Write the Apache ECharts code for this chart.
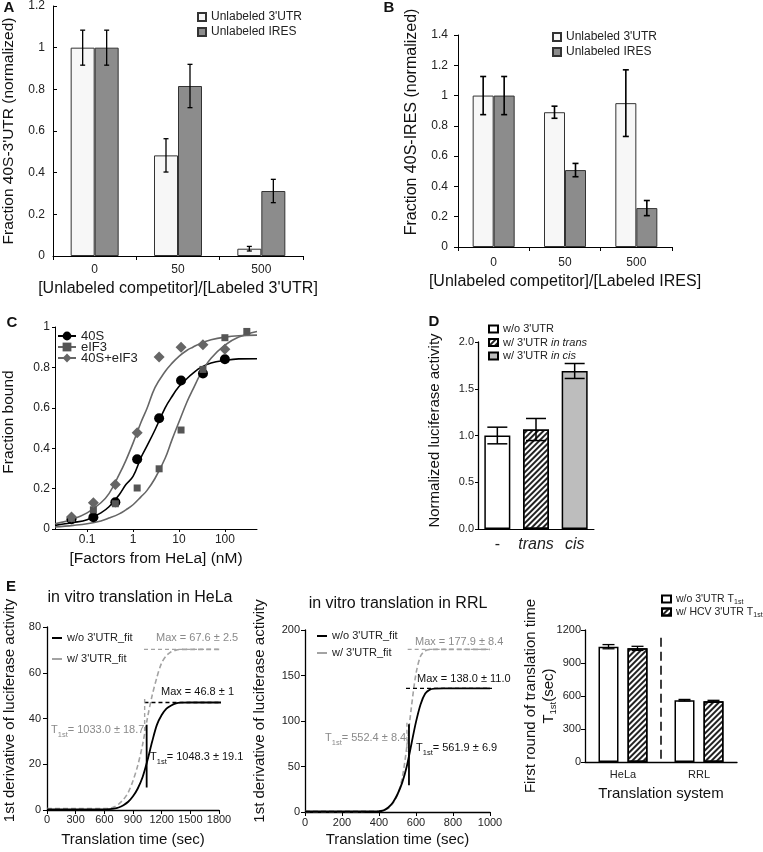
<!DOCTYPE html>
<html><head><meta charset="utf-8">
<script src="https://cdn.jsdelivr.net/npm/echarts@6/dist/echarts.min.js"></script>
<style>html,body{margin:0;padding:0;background:#fff}#c{width:763px;height:852px}</style>
</head><body><div id="c"></div>
<script>
const FONT = '"Liberation Sans", Arial, Helvetica, sans-serif';

// ---------- Panel A ----------
const catsA = ['0', '50', '500'];
const aUtr = [1.0, 0.483, 0.035];
const aUtrErr = [0.084, 0.08, 0.011];
const aIres = [1.0, 0.816, 0.312];
const aIresErr = [0.084, 0.104, 0.056];

// ---------- Panel B ----------
const catsB = ['0', '50', '500'];
const bUtr = [1.0, 0.89, 0.95];
const bUtrErr = [0.126, 0.04, 0.22];
const bIres = [1.0, 0.508, 0.257];
const bIresErr = [0.126, 0.044, 0.05];

// ---------- Panel C ----------
const cConc = [0.0457, 0.137, 0.412, 1.23, 3.70, 11.1, 33.3, 100];
const cConcEif3 = [0.0457, 0.137, 0.412, 1.23, 3.70, 11.1, 33.3, 100, 300];
const c40S = [0.048, 0.058, 0.132, 0.345, 0.548, 0.735, 0.77, 0.84];
const cEif3 = [0.052, 0.095, 0.125, 0.203, 0.298, 0.49, 0.79, 0.947, 0.978];
const cBoth = [0.06, 0.13, 0.22, 0.476, 0.851, 0.9, 0.912, 0.89];
const cFitX = [0.02, 0.05, 0.1, 0.2, 0.3, 0.5, 0.7, 1, 1.5, 2, 3, 5, 7, 10, 15, 20, 30, 50, 100, 200, 500];
const cFit40S = [0.018, 0.032, 0.046, 0.08, 0.11, 0.17, 0.22, 0.26, 0.355, 0.41, 0.49, 0.60, 0.655, 0.705, 0.745, 0.77, 0.80, 0.822, 0.835, 0.842, 0.843];
const cFitEif3 = [0.01, 0.018, 0.026, 0.04, 0.054, 0.075, 0.095, 0.12, 0.16, 0.19, 0.25, 0.35, 0.44, 0.53, 0.63, 0.69, 0.77, 0.845, 0.91, 0.95, 0.978];
const cFitBoth = [0.026, 0.05, 0.08, 0.13, 0.175, 0.27, 0.34, 0.425, 0.53, 0.595, 0.70, 0.78, 0.82, 0.855, 0.885, 0.90, 0.92, 0.937, 0.95, 0.957, 0.96];
const cXTicks = [0.1, 1, 10, 100];

// ---------- Panel D ----------
const catsD = ['-', 'trans', 'cis'];
const dNames = ["w/o 3'UTR", "w/ 3'UTR in trans", "w/ 3'UTR in cis"];
const dVals = [1.0, 1.064, 1.69];
const dErr = [0.089, 0.118, 0.08];

// ---------- Panel E1 (HeLa) ----------
const e1T = [0, 300, 600, 650, 700, 750, 800, 850, 900, 950, 1000, 1050, 1100, 1150, 1200, 1250, 1300, 1350, 1400, 1500, 1850];
const e1Without = [0.3, 0.3, 0.3, 0.4, 0.6, 1.1, 2.1, 3.6, 6.0, 9.4, 14.3, 21.5, 29.8, 37.2, 41.5, 44.3, 45.7, 46.6, 46.9, 47.0, 47.0];
const e1With = [0.6, 0.6, 0.6, 0.7, 1.3, 2.6, 4.6, 7.7, 12.8, 19.5, 28.5, 40.0, 50.0, 58.0, 64.3, 67.5, 69.2, 69.9, 70.2, 70.2, 70.2];
const e1MaxWith = [[1015, 70.2], [1850, 70.2]];
const e1MaxWithout = [[1020, 47.0], [1850, 47.0]];
const e1T1With = [[1022, 48.5], [1022, 34]];
const e1T1Without = [[1043, 37.3], [1043, 9.8]];

// ---------- Panel E2 (RRL) ----------
const e2T = [0, 200, 400, 425, 450, 475, 500, 525, 550, 575, 600, 625, 650, 675, 700, 750, 1000];
const e2Without = [0.7, 0.7, 0.8, 1.8, 5, 10.5, 19.5, 32, 50, 74.5, 99, 118.5, 130.2, 134.5, 135.5, 135.8, 135.8];
const e2With = [0.7, 0.7, 1, 2, 4, 9.5, 19, 37, 71, 115, 152, 171.5, 177, 178.5, 178.7, 178.7, 178.7];
const e2MaxWith = [[555, 178.7], [1018, 178.7]];
const e2MaxWithout = [[546, 135.8], [1021, 135.8]];
const e2T1With = [[551, 98], [551, 66]];
const e2T1Without = [[562, 96.5], [562, 29.3]];

// ---------- Panel E3 ----------
const catsE3 = ['HeLa', 'RRL'];
const e3Without = [1048.3, 561.9];
const e3WithoutErr = [19.1, 6.9];
const e3With = [1033.0, 552.4];
const e3WithErr = [18.7, 8.4];
const e3Divider = [30, 1160];

// ---------- helpers ----------
function merge(a, b) {
  for (const k in b) {
    if (b[k] && typeof b[k] === 'object' && !Array.isArray(b[k]) && a[k] && typeof a[k] === 'object' && !Array.isArray(a[k])) merge(a[k], b[k]);
    else a[k] = b[k];
  }
  return a;
}
const plain = v => String(v);
function axisBase(gi, extra) {
  return merge({
    gridIndex: gi,
    splitLine: { show: false },
    axisLine: { show: true, onZero: false, lineStyle: { color: '#000', width: 1 } },
    axisTick: { show: true, inside: false, length: 4, lineStyle: { color: '#000' } },
    axisLabel: { color: '#222', fontSize: 12, fontFamily: FONT, margin: 8 },
    nameLocation: 'middle',
    nameMoveOverlap: false,
    nameTextStyle: { color: '#111', fontSize: 16, fontFamily: FONT }
  }, extra);
}
function errBars(gi, vals, errs, offsetPx, capW, lw) {
  return {
    type: 'custom', xAxisIndex: gi, yAxisIndex: gi, z: 5, silent: true,
    data: vals.map((v, i) => [i, v - errs[i], v + errs[i]]),
    encode: { x: 0, y: [1, 2] },
    renderItem(params, api) {
      const i = api.value(0);
      const p1 = api.coord([i, api.value(1)]);
      const p2 = api.coord([i, api.value(2)]);
      const x = p1[0] + offsetPx;
      const h = capW / 2;
      const st = { stroke: '#000', lineWidth: lw };
      return { type: 'group', children: [
        { type: 'line', shape: { x1: x, y1: p1[1], x2: x, y2: p2[1] }, style: st },
        { type: 'line', shape: { x1: x - h, y1: p1[1], x2: x + h, y2: p1[1] }, style: st },
        { type: 'line', shape: { x1: x - h, y1: p2[1], x2: x + h, y2: p2[1] }, style: st }
      ] };
    }
  };
}
function refLine(gi, pts, color, type, width) {
  return { type: 'line', xAxisIndex: gi, yAxisIndex: gi, data: pts, symbol: 'none', silent: true, clip: false,
    lineStyle: { color, type, width }, z: 4 };
}
const hatch = { symbol: 'rect', symbolSize: 1, dashArrayX: [1, 0], dashArrayY: [1.2, 2.0], rotation: -Math.PI / 4, color: '#222' };
const subRich = {
  sub: { fontSize: 7.5, fontFamily: FONT, verticalAlign: 'bottom', lineHeight: 17 },
  gsub: { fontSize: 7.5, fontFamily: FONT, verticalAlign: 'bottom', lineHeight: 17, color: '#8a8a8a' }
};

const grids = [
  { left: 53, top: 6, width: 250, height: 250 },
  { left: 458, top: 35, width: 214, height: 212 },
  { left: 55, top: 327, width: 202, height: 202 },
  { left: 478, top: 342, width: 116, height: 187 },
  { left: 47, top: 627, width: 172, height: 183 },
  { left: 305, top: 630, width: 185, height: 182 },
  { left: 585, top: 630, width: 152, height: 132 }
];

const xAxes = [
  axisBase(0, { type: 'category', data: catsA, axisTick: { length: 4 }, axisLabel: { margin: 8 },
    name: "[Unlabeled competitor]/[Labeled 3'UTR]", nameGap: 25 }),
  axisBase(1, { type: 'category', data: catsB, axisLabel: { margin: 10 },
    name: '[Unlabeled competitor]/[Labeled IRES]', nameGap: 27 }),
  axisBase(2, { type: 'log', logBase: 10, min: 0.02, max: 500,
    axisLabel: { margin: 5, customValues: cXTicks }, axisTick: { customValues: cXTicks, length: 3 },
    name: '[Factors from HeLa] (nM)', nameGap: 22, nameTextStyle: { fontSize: 15.5 } }),
  axisBase(3, { type: 'category', data: catsD, axisTick: { show: false },
    axisLabel: { interval: 0, fontSize: 16, margin: 8, formatter: v => v === '-' ? v : '{i|' + v + '}',
      rich: { i: { fontStyle: 'italic', fontSize: 16, fontFamily: FONT, color: '#222' } } } }),
  axisBase(4, { type: 'value', min: 0, max: 1800, interval: 300, axisLabel: { fontSize: 11, margin: 4, formatter: plain },
    axisLine: { lineStyle: { width: 1.3 } },
    name: 'Translation time (sec)', nameGap: 22, nameTextStyle: { fontSize: 15 } }),
  axisBase(5, { type: 'value', min: 0, max: 1000, interval: 200, axisLabel: { fontSize: 11, margin: 5, formatter: plain },
    axisLine: { lineStyle: { width: 1.3 } },
    name: 'Translation time (sec)', nameGap: 20, nameTextStyle: { fontSize: 15 } }),
  axisBase(6, { type: 'category', data: catsE3, axisTick: { show: false }, axisLabel: { interval: 0, fontSize: 11, margin: 7 },
    axisLine: { lineStyle: { width: 1.3 } },
    name: 'Translation system', nameGap: 24, nameTextStyle: { fontSize: 15 } })
];

const yAxes = [
  axisBase(0, { type: 'value', min: 0, max: 1.2, interval: 0.2, axisTick: { inside: true },
    name: "Fraction 40S-3'UTR (normalized)", nameGap: 36, nameTextStyle: { fontSize: 15.5 } }),
  axisBase(1, { type: 'value', min: 0, max: 1.4, interval: 0.2, axisLabel: { margin: 10 },
    name: 'Fraction 40S-IRES (normalized)', nameGap: 38, nameTextStyle: { padding: [0, 0, 0, 38] } }),
  axisBase(2, { type: 'value', min: 0, max: 1, interval: 0.2, axisLabel: { margin: 5 }, axisTick: { length: 3 },
    name: 'Fraction bound', nameGap: 38, nameTextStyle: { fontSize: 15.5, padding: [0, 0, 0, 12] } }),
  axisBase(3, { type: 'value', min: 0, max: 2, interval: 0.5, axisLabel: { fontSize: 11, margin: 4, formatter: v => v.toFixed(1) },
    axisTick: { length: 3 }, axisLine: { lineStyle: { width: 1.3 } },
    name: 'Normalized luciferase activity', nameGap: 36, nameTextStyle: { fontSize: 15, padding: [0, 0, 0, 10] } }),
  axisBase(4, { type: 'value', min: 0, max: 80, interval: 20, axisLabel: { fontSize: 11, margin: 6, formatter: plain },
    axisLine: { lineStyle: { width: 1.3 } },
    name: '1st derivative of luciferase activity', nameGap: 30, nameTextStyle: { fontSize: 15, padding: [0, 0, 0, 16] } }),
  axisBase(5, { type: 'value', min: 0, max: 200, interval: 50, axisLabel: { fontSize: 11, margin: 5, formatter: plain },
    axisLine: { lineStyle: { width: 1.3 } },
    name: '1st derivative of luciferase activity', nameGap: 38, nameTextStyle: { fontSize: 15, padding: [0, 0, 0, 20] } }),
  axisBase(6, { type: 'value', min: 0, max: 1200, interval: 300, axisLabel: { fontSize: 11, margin: 4, formatter: plain },
    axisLine: { lineStyle: { width: 1.3 } },
    name: 'First round of translation time\nT{sub|1st}(sec)', nameGap: 27,
    nameTextStyle: { fontSize: 15, lineHeight: 17, rich: { sub: { fontSize: 9.5, fontFamily: FONT, verticalAlign: 'bottom', lineHeight: 19, color: '#111' } } } })
];

const series = [];
// A
series.push({ type: 'bar', name: "Unlabeled 3'UTR", xAxisIndex: 0, yAxisIndex: 0, data: aUtr, barWidth: 24, barGap: '0%',
  itemStyle: { color: '#f7f7f7', borderColor: '#333', borderWidth: 1 } });
series.push({ type: 'bar', name: 'Unlabeled IRES', xAxisIndex: 0, yAxisIndex: 0, data: aIres, barWidth: 24, barGap: '0%',
  itemStyle: { color: '#8c8c8c', borderColor: '#333', borderWidth: 1 } });
series.push(errBars(0, aUtr, aUtrErr, -12, 5, 1.3));
series.push(errBars(0, aIres, aIresErr, 12, 5, 1.3));
// B
series.push({ type: 'bar', name: "Unlabeled 3'UTR", xAxisIndex: 1, yAxisIndex: 1, data: bUtr, barWidth: 21, barGap: '0%',
  itemStyle: { color: '#f7f7f7', borderColor: '#333', borderWidth: 1 } });
series.push({ type: 'bar', name: 'Unlabeled IRES', xAxisIndex: 1, yAxisIndex: 1, data: bIres, barWidth: 21, barGap: '0%',
  itemStyle: { color: '#8c8c8c', borderColor: '#333', borderWidth: 1 } });
series.push(errBars(1, bUtr, bUtrErr, -10.5, 6, 1.6));
series.push(errBars(1, bIres, bIresErr, 10.5, 6, 1.6));
// C
const cGroups = [
  { name: '40S', fit: cFit40S, xs: cConc, ys: c40S, color: '#000', lineColor: '#000', symbol: 'circle', size: 10 },
  { name: 'eIF3', fit: cFitEif3, xs: cConcEif3, ys: cEif3, color: '#555', lineColor: '#666', symbol: 'rect', size: 7 },
  { name: '40S+eIF3', fit: cFitBoth, xs: cConc, ys: cBoth, color: '#666', lineColor: '#666', symbol: 'diamond', size: 11 }
];
cGroups.forEach(g => {
  series.push({ type: 'line', name: g.name, xAxisIndex: 2, yAxisIndex: 2, smooth: 0.4, showSymbol: false,
    symbol: g.symbol, symbolSize: g.size, data: cFitX.map((x, i) => [x, g.fit[i]]),
    itemStyle: { color: g.color }, lineStyle: { color: g.lineColor, width: 1.6 }, z: 2 });
  series.push({ type: 'scatter', name: g.name, xAxisIndex: 2, yAxisIndex: 2, symbol: g.symbol, symbolSize: g.size,
    data: g.xs.map((x, i) => [x, g.ys[i]]), itemStyle: { color: g.color, opacity: 1 }, z: 3 });
});
// D
const dStyles = [
  { color: '#fff', borderColor: '#000', borderWidth: 1.5 },
  { color: '#fff', borderColor: '#000', borderWidth: 1.5, decal: hatch },
  { color: '#bdbdbd', borderColor: '#000', borderWidth: 1.5 }
];
dNames.forEach((n, k) => {
  series.push({ type: 'bar', name: n, xAxisIndex: 3, yAxisIndex: 3, barWidth: 26, barGap: '-100%',
    data: dVals.map((v, j) => j === k ? v : '-'), itemStyle: dStyles[k] });
});
series.push(errBars(3, dVals, dErr, 0, 20, 1.5));
// E1
series.push({ type: 'line', name: "w/o 3'UTR_fit", xAxisIndex: 4, yAxisIndex: 4, symbol: 'none', smooth: 0.3, clip: false,
  data: e1T.map((t, i) => [t, e1Without[i]]), lineStyle: { color: '#000', width: 1.8 }, itemStyle: { color: '#000' }, z: 3 });
series.push({ type: 'line', name: "w/ 3'UTR_fit", xAxisIndex: 4, yAxisIndex: 4, symbol: 'none', smooth: 0.3, clip: false,
  data: e1T.map((t, i) => [t, e1With[i]]), lineStyle: { color: '#a3a3a3', width: 1.6, type: [5, 3] }, itemStyle: { color: '#a3a3a3' }, z: 2 });
series.push(refLine(4, e1MaxWith, '#a3a3a3', [4, 3], 1.4));
series.push(refLine(4, e1MaxWithout, '#000', [4, 3], 1.4));
series.push(refLine(4, e1T1With, '#a3a3a3', [4, 3], 1.4));
series.push(refLine(4, e1T1Without, '#000', 'solid', 1.8));
// E2
series.push({ type: 'line', name: "w/o 3'UTR_fit", xAxisIndex: 5, yAxisIndex: 5, symbol: 'none', smooth: 0.3, clip: false,
  data: e2T.map((t, i) => [t, e2Without[i]]), lineStyle: { color: '#000', width: 1.8 }, itemStyle: { color: '#000' }, z: 3 });
series.push({ type: 'line', name: "w/ 3'UTR_fit", xAxisIndex: 5, yAxisIndex: 5, symbol: 'none', smooth: 0.3, clip: false,
  data: e2T.map((t, i) => [t, e2With[i]]), lineStyle: { color: '#a3a3a3', width: 1.6, type: [5, 3] }, itemStyle: { color: '#a3a3a3' }, z: 2 });
series.push(refLine(5, e2MaxWith, '#a3a3a3', [4, 3], 1.4));
series.push(refLine(5, e2MaxWithout, '#000', [4, 3], 1.4));
series.push(refLine(5, e2T1With, '#a3a3a3', [4, 3], 1.4));
series.push(refLine(5, e2T1Without, '#000', 'solid', 1.8));
// E3
series.push({ type: 'bar', name: "w/o 3'UTR T1st", xAxisIndex: 6, yAxisIndex: 6, data: e3Without, barWidth: 20, barGap: '45%',
  itemStyle: { color: '#fff', borderColor: '#000', borderWidth: 1.5 } });
series.push({ type: 'bar', name: "w/ HCV 3'UTR T1st", xAxisIndex: 6, yAxisIndex: 6, data: e3With, barWidth: 20, barGap: '45%',
  itemStyle: { color: '#fff', borderColor: '#000', borderWidth: 1.5, decal: hatch } });
series.push(errBars(6, e3Without, e3WithoutErr, -14.5, 12, 1.3));
series.push(errBars(6, e3With, e3WithErr, 14.5, 12, 1.3));
series.push({ type: 'custom', xAxisIndex: 6, yAxisIndex: 6, silent: true, z: 5,
  data: [[0, e3Divider[0], e3Divider[1]]], encode: { x: 0, y: [1, 2] },
  renderItem(params, api) {
    const a = api.coord([api.value(0), api.value(1)]);
    const b = api.coord([api.value(0), api.value(2)]);
    const x = a[0] + api.size([1, 0])[0] / 2;
    return { type: 'line', shape: { x1: x, y1: a[1], x2: x, y2: b[1] }, style: { stroke: '#000', lineWidth: 1.5, lineDash: [9, 5] } };
  } });

const lt = (o) => merge({ orient: 'vertical', padding: 0, itemWidth: 8, itemHeight: 8, itemGap: 0,
  textStyle: { fontSize: 12, fontFamily: FONT, color: '#222', lineHeight: 14 }, selectedMode: false }, o);

const legends = [
  lt({ data: ["Unlabeled 3'UTR", 'Unlabeled IRES'], left: 197, top: 9.5, icon: 'rect', textStyle: { lineHeight: 15 } }),
  lt({ data: ["Unlabeled 3'UTR", 'Unlabeled IRES'], left: 552, top: 29.5, icon: 'rect', textStyle: { lineHeight: 15 } }),
  lt({ data: ['40S', 'eIF3', '40S+eIF3'], left: 57, top: 329.5, itemWidth: 18, itemHeight: 11, itemGap: -2,
    textStyle: { fontSize: 13, lineHeight: 11 } }),
  lt({ data: dNames, left: 488, top: 322.5, icon: 'rect', itemWidth: 9, itemHeight: 7, itemGap: 0.5,
    formatter: n => n.replace(/in (trans|cis)/, '{i|in $1}'),
    textStyle: { fontSize: 11, lineHeight: 13, rich: { i: { fontStyle: 'italic', fontSize: 11, fontFamily: FONT, color: '#222' } } } }),
  lt({ data: ["w/o 3'UTR_fit", "w/ 3'UTR_fit"], left: 52, top: 631, icon: 'rect', itemWidth: 10, itemHeight: 2, itemGap: 7,
    textStyle: { fontSize: 11, lineHeight: 14 } }),
  lt({ data: ["w/o 3'UTR_fit", "w/ 3'UTR_fit"], left: 317, top: 629, icon: 'rect', itemWidth: 10, itemHeight: 2, itemGap: 3,
    textStyle: { fontSize: 11, lineHeight: 14 } }),
  lt({ data: ["w/o 3'UTR T1st", "w/ HCV 3'UTR T1st"], left: 661, top: 592.5, icon: 'rect', itemWidth: 9, itemHeight: 7, itemGap: 0,
    formatter: n => n.replace('T1st', 'T{sub|1st}'),
    textStyle: { fontSize: 10.5, lineHeight: 13, rich: { sub: { fontSize: 7, fontFamily: FONT, verticalAlign: 'bottom', lineHeight: 13, color: '#222' } } } })
];

function txt(x, y, text, o) {
  return { type: 'text', x, y, silent: true, style: merge({ text, font: '11px ' + FONT, fill: '#111', align: 'left', verticalAlign: 'middle', rich: subRich }, o || {}) };
}
const graphics = [
  txt(9, 8, 'A', { font: 'bold 15px ' + FONT, align: 'center' }),
  txt(389, 8, 'B', { font: 'bold 15px ' + FONT, align: 'center' }),
  txt(12, 323, 'C', { font: 'bold 15px ' + FONT, align: 'center' }),
  txt(434, 322, 'D', { font: 'bold 15px ' + FONT, align: 'center' }),
  txt(11, 587, 'E', { font: 'bold 15px ' + FONT, align: 'center' }),
  txt(140, 598, 'in vitro translation in HeLa', { font: '16px ' + FONT, align: 'center' }),
  txt(398, 604, 'in vitro translation in RRL', { font: '16px ' + FONT, align: 'center' }),
  txt(156, 638, 'Max = 67.6 ± 2.5', { fill: '#8a8a8a' }),
  txt(161, 692, 'Max = 46.8 ± 1'),
  txt(51, 730, 'T{gsub|1st}= 1033.0 ± 18.7', { fill: '#8a8a8a' }),
  txt(150, 757, 'T{sub|1st}= 1048.3 ± 19.1'),
  txt(415, 642, 'Max = 177.9 ± 8.4', { fill: '#8a8a8a' }),
  txt(417, 679, 'Max = 138.0 ± 11.0'),
  txt(325, 738, 'T{gsub|1st}= 552.4 ± 8.4', { fill: '#8a8a8a' }),
  txt(416, 748, 'T{sub|1st}= 561.9 ± 6.9')
];

const chart = echarts.init(document.getElementById('c'));
chart.setOption({
  animation: false,
  backgroundColor: '#fff',
  textStyle: { fontFamily: FONT },
  grid: grids,
  xAxis: xAxes,
  yAxis: yAxes,
  legend: legends,
  series,
  graphic: graphics
});
</script></body></html>
